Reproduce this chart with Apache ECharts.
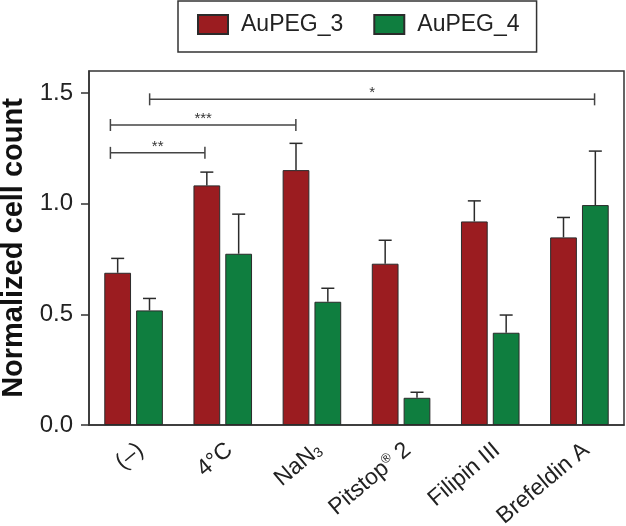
<!DOCTYPE html>
<html><head><meta charset="utf-8">
<script src="https://cdn.jsdelivr.net/npm/echarts@6/dist/echarts.min.js"></script>
<style>html,body{margin:0;padding:0;background:#fff}#c{width:626px;height:526px}</style>
</head><body><div id="c"></div>
<script>
const categories = ['(–)', '4°C', 'NaN{sub|3}', 'Pitstop{sup|®} 2', 'Filipin III', 'Brefeldin A'];
const seriesNames = ['AuPEG_3', 'AuPEG_4'];
const aupeg3 = [0.688, 1.083, 1.152, 0.729, 0.920, 0.848];
const aupeg3Err = [0.065, 0.060, 0.121, 0.106, 0.093, 0.090];
const aupeg4 = [0.518, 0.774, 0.557, 0.123, 0.417, 0.994];
const aupeg4Err = [0.054, 0.179, 0.061, 0.025, 0.080, 0.244];
const sigFrom = [-0.26, -0.26, 0.18];
const sigTo = [0.80, 1.82, 5.17];
const sigY = [1.230, 1.356, 1.472];
const sigText = ['**', '***', '*'];

const FONT = 'Liberation Sans, Arial, sans-serif';
const RED = '#9b1c20';
const GREEN = '#0f7e3f';
const EDGE = '#2b2b2b';
const BAR_W = 0.30, BAR_GAP = 0.19;
const OFF = BAR_W * (1 + BAR_GAP) / 2;

function errSeries(vals, errs, sign) {
  return {
    type: 'custom', xAxisIndex: 1, yAxisIndex: 0, z: 3, silent: true,
    data: vals.map((v, i) => [i + sign * OFF, v, v + errs[i]]),
    renderItem(params, api) {
      const p0 = api.coord([api.value(0), api.value(1)]);
      const p1 = api.coord([api.value(0), api.value(2)]);
      const cap = 6.5;
      const st = { stroke: EDGE, lineWidth: 1.5 };
      return { type: 'group', children: [
        { type: 'line', shape: { x1: p0[0], y1: p0[1], x2: p1[0], y2: p1[1] }, style: st },
        { type: 'line', shape: { x1: p1[0] - cap, y1: p1[1], x2: p1[0] + cap, y2: p1[1] }, style: st }
      ]};
    }
  };
}

const chart = echarts.init(document.getElementById('c'), null, { renderer: 'canvas' });
chart.setOption({
  animation: false,
  backgroundColor: '#fff',
  textStyle: { fontFamily: FONT },
  legend: {
    data: seriesNames, left: 178, top: 1,
    itemWidth: 30, itemHeight: 19, itemGap: 30,
    borderColor: '#333', borderWidth: 1.5,
    padding: [12, 17, 16, 19],
    icon: 'rect',
    textStyle: { fontSize: 23, color: '#222', fontFamily: FONT, padding: [0, 0, 0, 8] }
  },
  grid: { left: 89, right: 2, top: 71, bottom: 101, show: true, borderColor: '#333', borderWidth: 1.5,
    containLabel: false, outerBoundsMode: 'none' },
  xAxis: [{
    type: 'category', data: categories,
    axisLine: { onZero: false, lineStyle: { color: '#333', width: 1.5 } },
    axisTick: { alignWithLabel: true, length: 7, lineStyle: { color: '#333', width: 1.5 } },
    axisLabel: {
      rotate: 40, interval: 0, fontSize: 23, margin: 28, color: '#222', fontFamily: FONT,
      padding: [0, -9, 0, 0],
      rich: {
        sub: { fontSize: 14, verticalAlign: 'bottom', color: '#222', fontFamily: FONT },
        sup: { fontSize: 13, verticalAlign: 'top', color: '#222', fontFamily: FONT }
      }
    }
  }, {
    type: 'value', min: -0.5, max: 5.5, show: false
  }],
  yAxis: {
    type: 'value', min: 0, max: 1.6, interval: 0.5,
    name: 'Normalized cell count', nameLocation: 'middle', nameGap: 60,
    nameTextStyle: { fontSize: 29, fontWeight: 'bold', color: '#111', fontFamily: FONT },
    axisLine: { show: true, onZero: false, lineStyle: { color: '#333', width: 1.5 } },
    axisTick: { show: true, length: 8, lineStyle: { color: '#333', width: 1.5 } },
    axisLabel: { fontSize: 24, margin: 16, color: '#222', fontFamily: FONT, showMaxLabel: false,
      formatter: v => v.toFixed(1) },
    splitLine: { show: false }
  },
  series: [
    { name: seriesNames[0], type: 'bar', data: aupeg3, barWidth: (BAR_W * 100) + '%', barGap: (BAR_GAP * 100) + '%',
      itemStyle: { color: RED, borderColor: EDGE, borderWidth: 1 } },
    { name: seriesNames[1], type: 'bar', data: aupeg4, barWidth: (BAR_W * 100) + '%', barGap: (BAR_GAP * 100) + '%',
      itemStyle: { color: GREEN, borderColor: EDGE, borderWidth: 1 } },
    errSeries(aupeg3, aupeg3Err, -1),
    errSeries(aupeg4, aupeg4Err, 1),
    {
      type: 'custom', xAxisIndex: 1, yAxisIndex: 0, z: 4, silent: true,
      data: sigFrom.map((f, i) => [f, sigTo[i], sigY[i]]),
      renderItem(params, api) {
        const a = api.coord([api.value(0), api.value(2)]);
        const b = api.coord([api.value(1), api.value(2)]);
        const h = 6;
        const st = { stroke: '#444', lineWidth: 1.5 };
        return { type: 'group', children: [
          { type: 'line', shape: { x1: a[0], y1: a[1], x2: b[0], y2: b[1] }, style: st },
          { type: 'line', shape: { x1: a[0], y1: a[1] - h, x2: a[0], y2: a[1] + h }, style: st },
          { type: 'line', shape: { x1: b[0], y1: b[1] - h, x2: b[0], y2: b[1] + h }, style: st },
          { type: 'text', x: (a[0] + b[0]) / 2, y: a[1] + 1,
            style: { text: sigText[params.dataIndex], fontSize: 15, fontFamily: FONT, fill: '#333',
              align: 'center', verticalAlign: 'bottom' } }
        ]};
      }
    }
  ]
});
</script></body></html>
